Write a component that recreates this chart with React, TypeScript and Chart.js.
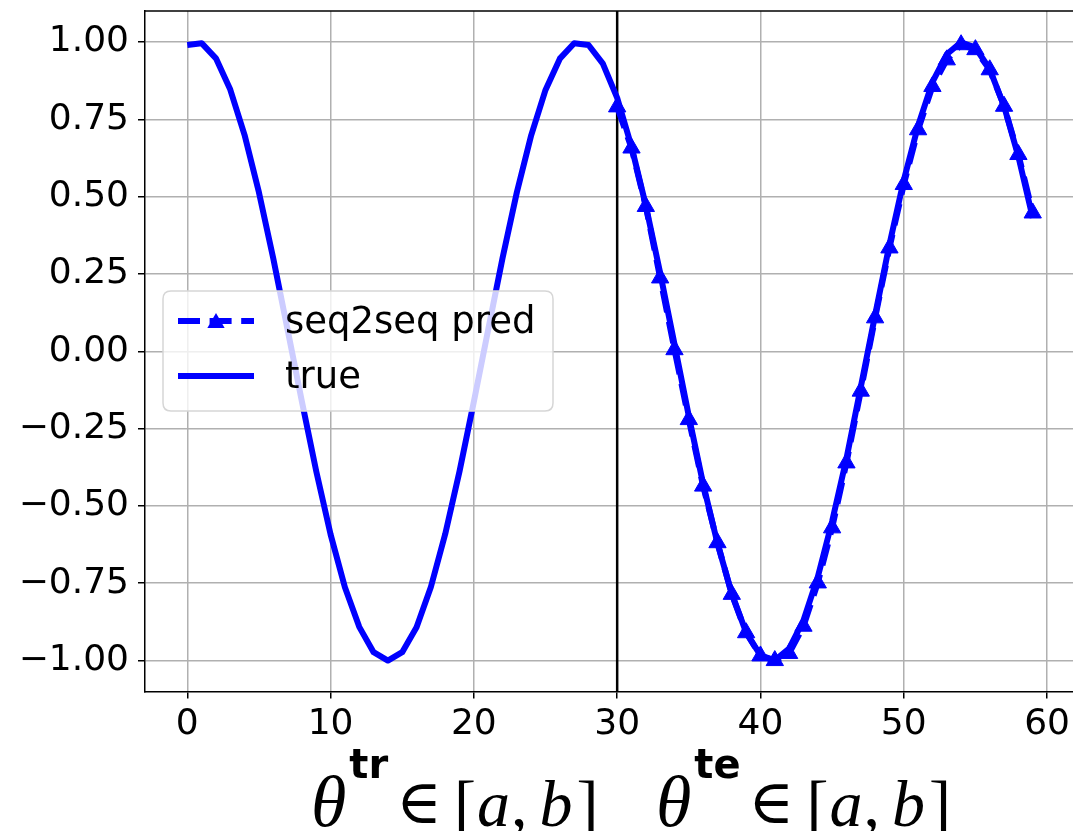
import React, { useEffect, useRef } from 'react';
import { Chart, registerables } from 'chart.js';

Chart.register(...registerables);

// ---- data ----
const TRUE_START = 0;
const TRUE_Y = [
  0.990, 0.996, 0.947, 0.846, 0.699, 0.514, 0.300, 0.070, -0.163, -0.388,
  -0.592, -0.763, -0.891, -0.973, -1.000, -0.973, -0.892, -0.762, -0.591, -0.388,
  -0.163, 0.070, 0.301, 0.514, 0.698, 0.845, 0.946, 0.996, 0.990, 0.930,
  0.819, 0.662, 0.471, 0.253, 0.023, -0.210, -0.429, -0.621, -0.784, -0.909,
  -0.983, -0.999, -0.961, -0.870, -0.730, -0.550, -0.347, -0.116, 0.117, 0.345,
  0.553, 0.729, 0.870, 0.960, 0.999, 0.982, 0.912, 0.792, 0.629, 0.431,
];
const PRED_START = 30;
const PRED_Y = [
  0.790, 0.657, 0.468, 0.237, 0.005, -0.221, -0.436, -0.619, -0.786, -0.910,
  -0.985, -1.000, -0.977, -0.889, -0.749, -0.571, -0.361, -0.129, 0.108, 0.334,
  0.539, 0.716, 0.856, 0.942, 0.991, 0.975, 0.910, 0.792, 0.636, 0.447,
];
const SPLIT_X = 30;
const X_TICKS = [0, 10, 20, 30, 40, 50, 60];
const Y_TICKS = [-1, -0.75, -0.5, -0.25, 0, 0.25, 0.5, 0.75, 1];
const Y_TICK_LABELS = ['−1.00', '−0.75', '−0.50', '−0.25', '0.00', '0.25', '0.50', '0.75', '1.00'];
const LEGEND_LABELS = ['seq2seq pred', 'true'];
const TITLE_SUPS = ['tr', 'te'];
const TITLE_THETA = 'θ';
const TITLE_IN = '∈';

const BLUE = '#0000ff';
const FONT = '"DejaVu Sans", sans-serif';
const SERIF = '"Liberation Serif", "DejaVu Serif", serif';
const ZERO_PAD = { left: 0, top: 0, right: 0, bottom: 0 };
const VIEW_W = 1073;
const VIEW_H = 831;

function drawTriangle(ctx: CanvasRenderingContext2D, x: number, y: number, r: number) {
  ctx.beginPath();
  let a = 0;
  ctx.moveTo(x + Math.sin(a) * r, y - Math.cos(a) * r);
  a += (2 * Math.PI) / 3;
  ctx.lineTo(x + Math.sin(a) * r, y - Math.cos(a) * r);
  a += (2 * Math.PI) / 3;
  ctx.lineTo(x + Math.sin(a) * r, y - Math.cos(a) * r);
  ctx.closePath();
  ctx.fill();
}

const framePlugin = {
  id: 'frameAndExtras',
  beforeDatasetsDraw(chart: any) {
    const { ctx, chartArea, scales } = chart;
    const px = scales.x.getPixelForValue(SPLIT_X);
    ctx.save();
    ctx.strokeStyle = '#000';
    ctx.lineWidth = 2.5;
    ctx.beginPath();
    ctx.moveTo(px, chartArea.top);
    ctx.lineTo(px, chartArea.bottom);
    ctx.stroke();
    ctx.restore();
  },
  afterDatasetsDraw(chart: any) {
    const { ctx, chartArea } = chart;
    ctx.save();
    // top spine
    ctx.strokeStyle = '#000';
    ctx.lineWidth = 1.5;
    ctx.beginPath();
    ctx.moveTo(chartArea.left, chartArea.top);
    ctx.lineTo(chartArea.right + 2, chartArea.top);
    ctx.stroke();

    // legend
    const lx = 163, ly = 291, lw = 390, lh = 120, rr = 8;
    ctx.beginPath();
    ctx.moveTo(lx + rr, ly);
    ctx.lineTo(lx + lw - rr, ly);
    ctx.quadraticCurveTo(lx + lw, ly, lx + lw, ly + rr);
    ctx.lineTo(lx + lw, ly + lh - rr);
    ctx.quadraticCurveTo(lx + lw, ly + lh, lx + lw - rr, ly + lh);
    ctx.lineTo(lx + rr, ly + lh);
    ctx.quadraticCurveTo(lx, ly + lh, lx, ly + lh - rr);
    ctx.lineTo(lx, ly + rr);
    ctx.quadraticCurveTo(lx, ly, lx + rr, ly);
    ctx.closePath();
    ctx.fillStyle = 'rgba(255,255,255,0.8)';
    ctx.fill();
    ctx.strokeStyle = '#d6d6d6';
    ctx.lineWidth = 1.5;
    ctx.stroke();

    const hx0 = 178, hx1 = 254;
    const y1 = 321, y2 = 376;
    ctx.strokeStyle = BLUE;
    ctx.fillStyle = BLUE;
    ctx.lineWidth = 6;
    ctx.lineCap = 'butt';
    ctx.setLineDash([22, 9.6]);
    ctx.beginPath();
    ctx.moveTo(hx0, y1);
    ctx.lineTo(hx1, y1);
    ctx.stroke();
    ctx.setLineDash([]);
    drawTriangle(ctx, (hx0 + hx1) / 2, y1 + 2, 10);
    ctx.beginPath();
    ctx.moveTo(hx0, y2);
    ctx.lineTo(hx1, y2);
    ctx.stroke();

    ctx.fillStyle = '#000';
    ctx.font = `37px ${FONT}`;
    ctx.textAlign = 'left';
    ctx.textBaseline = 'alphabetic';
    ctx.fillText(LEGEND_LABELS[0], 285, 333);
    ctx.fillText(LEGEND_LABELS[1], 285, 388);
    ctx.restore();
  },
  afterDraw(chart: any) {
    const { ctx } = chart;
    ctx.save();
    ctx.fillStyle = '#000';
    ctx.textAlign = 'left';
    ctx.textBaseline = 'alphabetic';
    const starts = [311, 656];
    const base = 826;
    TITLE_SUPS.forEach((sup, i) => {
      let x = starts[i];
      ctx.font = `italic 72px ${SERIF}`;
      ctx.fillText(TITLE_THETA, x, base);
      x += ctx.measureText(TITLE_THETA).width + 3;
      ctx.font = `bold 40px ${FONT}`;
      ctx.fillText(sup, x, 778);
      x += ctx.measureText(sup).width + 8;
      ctx.font = `62px ${SERIF}`;
      ctx.fillText(TITLE_IN, x, base - 3);
      x += ctx.measureText(TITLE_IN).width + 12;
      ctx.font = `66px ${SERIF}`;
      ctx.fillText('[', x, base);
      x += ctx.measureText('[').width + 1;
      ctx.font = `italic 66px ${SERIF}`;
      ctx.fillText('a', x, base);
      x += ctx.measureText('a').width + 1;
      ctx.font = `66px ${SERIF}`;
      ctx.fillText(',', x, base);
      x += ctx.measureText(',').width + 12;
      ctx.font = `italic 66px ${SERIF}`;
      ctx.fillText('b', x, base);
      x += ctx.measureText('b').width + 4;
      ctx.font = `66px ${SERIF}`;
      ctx.fillText(']', x, base);
    });
    ctx.restore();
  },
};

export default function App() {
  const ref = useRef<HTMLCanvasElement | null>(null);

  useEffect(() => {
    if (!ref.current) return;
    const trueData = TRUE_Y.map((y, i) => ({ x: TRUE_START + i, y }));
    const predData = PRED_Y.map((y, i) => ({ x: PRED_START + i, y }));

    const chart = new Chart(ref.current, {
      type: 'line',
      data: {
        datasets: [
          {
            label: LEGEND_LABELS[0],
            data: predData,
            borderColor: BLUE,
            backgroundColor: BLUE,
            borderWidth: 6,
            borderDash: [22, 9.6],
            borderJoinStyle: 'round',
            pointStyle: 'triangle',
            pointRadius: 10,
            pointBorderWidth: 1,
            pointBackgroundColor: BLUE,
            pointBorderColor: BLUE,
            tension: 0,
          },
          {
            label: LEGEND_LABELS[1],
            data: trueData,
            borderColor: BLUE,
            backgroundColor: BLUE,
            borderWidth: 6,
            borderJoinStyle: 'round',
            pointRadius: 0,
            tension: 0,
          },
        ],
      },
      options: {
        animation: false,
        responsive: false,
        maintainAspectRatio: false,
        devicePixelRatio: 1,
        layout: { padding: { left: 0, top: 10, right: 0, bottom: 0 } },
        plugins: {
          legend: { display: false },
          tooltip: { enabled: false },
        },
        scales: {
          x: {
            type: 'linear',
            min: -2.95,
            max: 61.81,
            afterBuildTicks: (s: any) => {
              s.ticks = X_TICKS.map((v) => ({ value: v }));
              s.getPadding = () => ZERO_PAD;
            },
            afterFit: (s: any) => {
              s.height = 139.5;
              s.paddingLeft = 0;
              s.paddingRight = 0;
            },
            ticks: {
              font: { family: FONT, size: 36 },
              color: '#000',
              padding: 5,
              maxRotation: 0,
              autoSkip: false,
              callback: (v: any) => String(v),
            },
            grid: {
              color: '#b0b0b0',
              lineWidth: 1.5,
              tickColor: '#000',
              tickWidth: 1.5,
              tickLength: 7,
            },
            border: { color: '#000', width: 1.5 },
          },
          y: {
            type: 'linear',
            min: -1.1,
            max: 1.1,
            afterBuildTicks: (s: any) => {
              s.ticks = Y_TICKS.map((v) => ({ value: v }));
              s.getPadding = () => ZERO_PAD;
            },
            afterFit: (s: any) => {
              s.width = 145;
              s.paddingTop = 0;
              s.paddingBottom = 0;
            },
            ticks: {
              font: { family: FONT, size: 36 },
              color: '#000',
              padding: 9,
              autoSkip: false,
              callback: (v: any) => {
                const i = Y_TICKS.findIndex((t) => Math.abs(t - v) < 1e-9);
                return i >= 0 ? Y_TICK_LABELS[i] : '';
              },
            },
            grid: {
              color: '#b0b0b0',
              lineWidth: 1.5,
              tickColor: '#000',
              tickWidth: 1.5,
              tickLength: 7,
            },
            border: { color: '#000', width: 1.5 },
          },
        },
      },
      plugins: [framePlugin],
    } as any);

    // widen the canvas (clipped by the wrapper) until the plot's right edge meets the view edge
    for (let k = 0; k < 4; k++) {
      const gap = VIEW_W - chart.chartArea.right;
      if (Math.abs(gap) < 0.5) break;
      chart.resize(chart.width + gap, VIEW_H);
    }

    return () => chart.destroy();
  }, []);

  return (
    <div style={{ position: 'absolute', left: 0, top: 0, width: VIEW_W, height: VIEW_H, overflow: 'hidden', background: '#fff' }}>
      <canvas ref={ref} width={VIEW_W} height={VIEW_H} style={{ display: 'block' }} />
    </div>
  );
}
